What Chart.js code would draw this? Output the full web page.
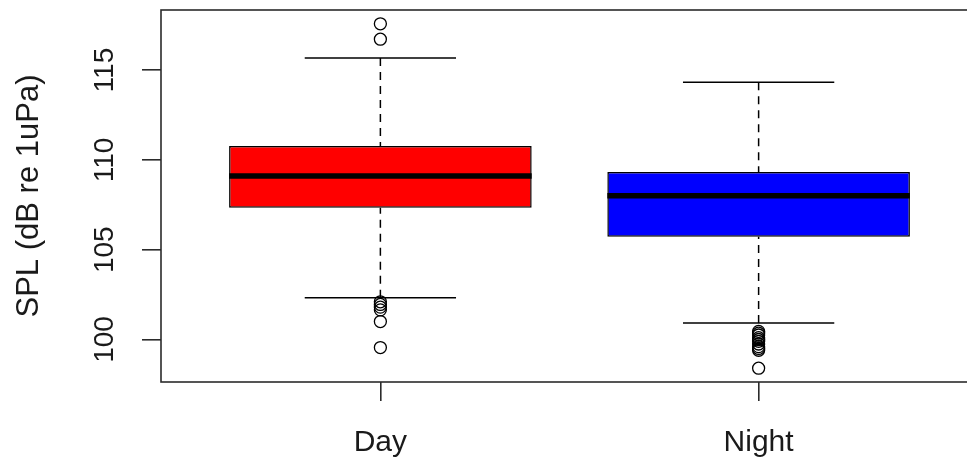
<!DOCTYPE html>
<html>
<head>
<meta charset="utf-8">
<script src="https://cdn.jsdelivr.net/npm/chart.js@4.4.1/dist/chart.umd.min.js"></script>
<style>
  html, body { margin: 0; padding: 0; background: #ffffff; overflow: hidden; }
  #wrap { width: 990px; height: 461px; }
</style>
</head>
<body>
<div id="wrap"><canvas id="chart" width="990" height="461"></canvas></div>
<script>
// Sound pressure level summary, day vs night
const groups = ['Day', 'Night'];
const lowerWhisker = [102.33, 100.92];
const q1 = [107.33, 105.72];
const median = [109.11, 108.0];
const q3 = [110.78, 109.33];
const upperWhisker = [115.68, 114.33];
const dayOutliers = [117.58, 116.72, 102.1, 101.95, 101.8, 101.65, 101.0, 99.55];
const nightOutliers = [100.45, 100.35, 100.25, 100.1, 100.0, 99.9, 99.75, 99.6, 99.5, 99.4, 98.4];
const yTicks = [100, 105, 110, 115];
const boxColors = ['#ff0000', '#0000ff'];
const yTitle = 'SPL (dB re 1uPa)';

const FONT = '"Liberation Sans", Arial, sans-serif';
const TEXT = '#1a1a1a';
const AXIS = '#2b2b2b';
const BOX_W = 0.8;
const CAP_W = 0.4;

// y range: data range widened by 4% each side
const allVals = [].concat(lowerWhisker, upperWhisker, dayOutliers, nightOutliers);
const lo = Math.min(...allVals), hi = Math.max(...allVals);
const pad = (hi - lo) * 0.04;

const datasets = [];

// boxes (q1..q3) as floating bars
datasets.push({
  type: 'bar',
  data: groups.map((g, i) => ({ x: i + 1, y: [q1[i], q3[i]] })),
  backgroundColor: boxColors,
  borderColor: '#000000',
  borderWidth: 1.5,
  borderSkipped: false,
  barPercentage: BOX_W,
  categoryPercentage: 1,
  order: 3
});

groups.forEach((g, i) => {
  const x = i + 1;
  // dashed whiskers, drawn from the whisker end towards the box
  datasets.push({
    type: 'line',
    data: [{ x, y: upperWhisker[i] }, { x, y: q3[i] }],
    borderColor: '#000000', borderWidth: 1.5, borderDash: [8, 6],
    pointRadius: 0, order: 2
  });
  datasets.push({
    type: 'line',
    data: [{ x, y: lowerWhisker[i] }, { x, y: q1[i] }],
    borderColor: '#000000', borderWidth: 1.5, borderDash: [8, 6],
    pointRadius: 0, order: 2
  });
  // whisker caps
  [upperWhisker[i], lowerWhisker[i]].forEach(v => {
    datasets.push({
      type: 'line',
      data: [{ x: x - CAP_W / 2, y: v }, { x: x + CAP_W / 2, y: v }],
      borderColor: '#000000', borderWidth: 1.5,
      pointRadius: 0, order: 2
    });
  });
  // median
  datasets.push({
    type: 'line',
    data: [{ x: x - BOX_W / 2, y: median[i] }, { x: x + BOX_W / 2, y: median[i] }],
    borderColor: '#000000', borderWidth: 5.5, borderCapStyle: 'butt',
    pointRadius: 0, order: 1
  });
});

// outliers
datasets.push({
  type: 'scatter',
  data: [].concat(
    dayOutliers.map(v => ({ x: 1, y: v })),
    nightOutliers.map(v => ({ x: 2, y: v }))
  ),
  pointStyle: 'circle',
  pointRadius: 6,
  pointBorderWidth: 1.3,
  pointBorderColor: '#000000',
  pointBackgroundColor: 'rgba(0,0,0,0)',
  order: 0
});

// frame, rotated y tick labels and y title
const framePlugin = {
  id: 'frame',
  afterDatasetsDraw(chart) {
    const { ctx, chartArea: a, scales } = chart;
    ctx.save();
    ctx.strokeStyle = AXIS;
    ctx.lineWidth = 1.6;
    ctx.strokeRect(a.left, a.top, a.right - a.left, a.bottom - a.top);

    ctx.fillStyle = TEXT;
    ctx.font = '28px ' + FONT;
    ctx.textAlign = 'center';
    ctx.textBaseline = 'middle';
    yTicks.forEach(v => {
      const py = scales.y.getPixelForValue(v);
      ctx.save();
      ctx.translate(a.left - 56, py);
      ctx.rotate(-Math.PI / 2);
      ctx.fillText(String(v), 0, 0);
      ctx.restore();
    });
    ctx.font = '31px ' + FONT;
    ctx.save();
    ctx.translate(29, (a.top + a.bottom) / 2);
    ctx.rotate(-Math.PI / 2);
    ctx.fillText(yTitle, 0, 0);
    ctx.restore();
    ctx.restore();
  }
};

new Chart(document.getElementById('chart'), {
  type: 'bar',
  data: { datasets },
  plugins: [framePlugin],
  options: {
    responsive: false,
    animation: false,
    layout: { padding: { top: 10, right: 12, left: 0, bottom: 0 } },
    plugins: { legend: { display: false }, tooltip: { enabled: false } },
    scales: {
      x: {
        type: 'linear',
        min: 0.42,
        max: 2.58,
        offset: false,
        afterBuildTicks: s => { s.ticks = groups.map((g, i) => ({ value: i + 1 })); },
        afterFit: s => { s.height = 79; },
        grid: { display: true, offset: false, drawOnChartArea: false, drawTicks: true, tickLength: 19, color: AXIS, lineWidth: 1.6 },
        border: { display: false },
        ticks: {
          callback: v => groups[v - 1],
          font: { family: FONT, size: 30 },
          color: TEXT,
          padding: 24,
          maxRotation: 0,
          autoSkip: false
        }
      },
      y: {
        type: 'linear',
        min: lo - pad,
        max: hi + pad,
        afterBuildTicks: s => { s.ticks = yTicks.map(v => ({ value: v })); },
        afterFit: s => { s.width = 161; },
        grid: { display: true, drawOnChartArea: false, drawTicks: true, tickLength: 19, color: AXIS, lineWidth: 1.6 },
        border: { display: false },
        ticks: { display: false }
      }
    }
  }
});
</script>
</body>
</html>
